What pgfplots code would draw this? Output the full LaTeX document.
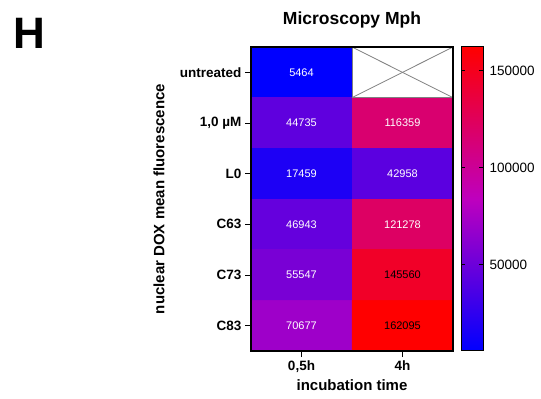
\documentclass[border=0pt]{standalone}
\usepackage{pgfplots}
\pgfplotsset{compat=1.18}
\usepackage{pgfplotstable}
\usepackage{fontspec}
\setmainfont{Liberation Sans}
\pgfplotstableread{
x y c
0 0 5464
1 0 5464
0 1 44735
1 1 116359
0 2 17459
1 2 42958
0 3 46943
1 3 121278
0 4 55547
1 4 145560
0 5 70677
1 5 162095
}\heat
\pgfplotstableread{
x y c
0 0 5464
0 1 44735
1 1 116359
0 2 17459
1 2 42958
0 3 46943
1 3 121278
0 4 55547
0 5 70677
}\whitelabels
\pgfplotstableread{
x y c
1 4 145560
1 5 162095
}\blacklabels
\pgfplotstableread{
x y c
0 5464 5464
1 5464 5464
0 83780 83780
1 83780 83780
0 162095 162095
1 162095 162095
}\cbar
\pgfplotsset{colormap={gpheat}{rgb255=(0,0,255) rgb255=(190,0,190) rgb255=(255,0,0)}}
\begin{document}
\begin{tikzpicture}
\path[use as bounding box] (0pt,0pt) rectangle (541pt,399pt);
\node[font=\fontsize{44}{44}\bfseries\selectfont, anchor=center] at (29pt,366pt) {H};
\begin{axis}[
  at={(251pt,48pt)}, anchor=south west,
  scale only axis, width=202pt, height=304pt,
  xmin=-0.5, xmax=1.5, ymin=-0.5, ymax=5.5,
  y dir=reverse,
  xtick={0,1}, xticklabels={{0,5h},4h},
  ytick={0,1,2,3,4,5},
  yticklabels={untreated,{1,0 µM},L0,C63,C73,C83},
  xtick pos=bottom, ytick pos=left,
  tick align=outside,
  major tick length=6pt,
  tick style={black, line width=1pt},
  axis line style={line width=1.2pt},
  ticklabel style={font=\fontsize{13.5}{16}\bfseries\selectfont},
  title={Microscopy Mph},
  title style={font=\fontsize{17.5}{20}\bfseries\selectfont, at={(0.5,1)}, anchor=center, yshift=21pt},
  xlabel={incubation time},
  ylabel={nuclear DOX mean fluorescence},
  every axis x label/.style={at={(axis description cs:0.5,0)}, anchor=center, yshift=-34pt, font=\fontsize{15}{18}\bfseries\selectfont},
  every axis y label/.style={at={(axis description cs:-0.455,0.5)}, anchor=center, rotate=90, font=\fontsize{15}{18}\bfseries\selectfont},
  point meta min=5464, point meta max=162095,
  axis on top,
]
\addplot[matrix plot*, mesh/cols=2, point meta=explicit] table[x=x, y=y, meta=c] {\heat};
\addplot[fill=white, draw=gray, line width=0.6pt] coordinates {(0.5,-0.5) (1.5,-0.5) (1.5,0.5) (0.5,0.5)} -- cycle;
\addplot[gray, line width=0.8pt] coordinates {(0.5,-0.5) (1.5,0.5)};
\addplot[gray, line width=0.8pt] coordinates {(0.5,0.5) (1.5,-0.5)};
\addplot[only marks, mark=none, point meta=explicit symbolic, nodes near coords, nodes near coords align=center,
  every node near coord/.append style={text=white, font=\fontsize{11}{13}\selectfont, anchor=center}]
  table[x=x, y=y, meta=c] {\whitelabels};
\addplot[only marks, mark=none, point meta=explicit symbolic, nodes near coords, nodes near coords align=center,
  every node near coord/.append style={text=black, font=\fontsize{11}{13}\selectfont, anchor=center}]
  table[x=x, y=y, meta=c] {\blacklabels};
\end{axis}
\begin{axis}[
  at={(461pt,48pt)}, anchor=south west,
  scale only axis, width=22pt, height=304pt,
  xmin=0, xmax=1, ymin=5464, ymax=162095,
  xtick=\empty,
  scaled y ticks=false,
  ytick={50000,100000,150000},
  yticklabels={50000,100000,150000},
  yticklabel pos=right,
  ytick pos=both,
  tick align=inside,
  ytick align=inside,
  major tick length=4pt,
  tick style={black, line width=0.8pt},
  axis line style={line width=1pt},
  yticklabel style={font=\fontsize{13.5}{16}\selectfont, xshift=3pt},
  point meta min=5464, point meta max=162095,
  axis on top,
]
\addplot[surf, shader=interp, mesh/cols=2, point meta=explicit] table[x=x, y=y, meta=c] {\cbar};
\end{axis}
\end{tikzpicture}
\end{document}
